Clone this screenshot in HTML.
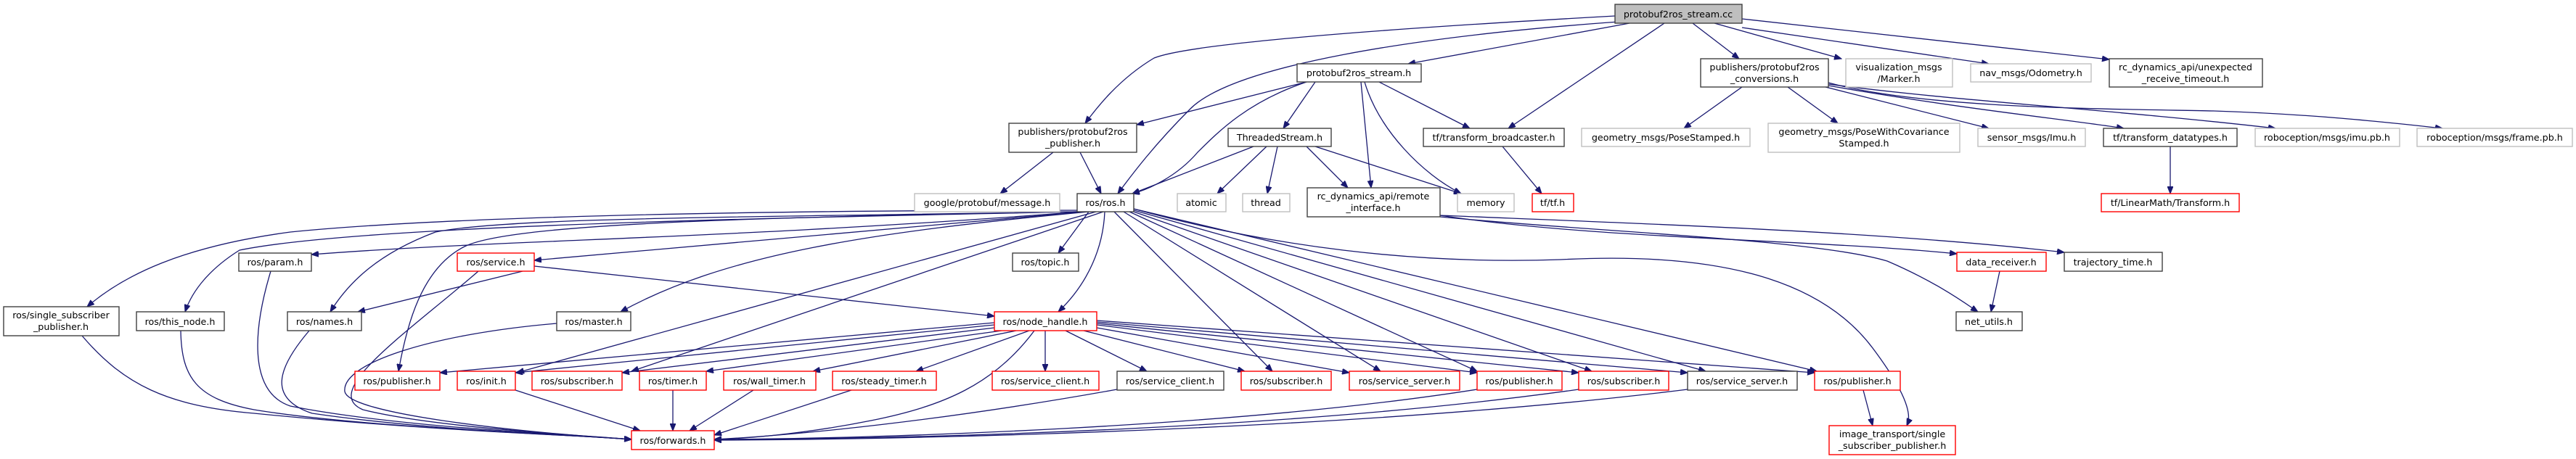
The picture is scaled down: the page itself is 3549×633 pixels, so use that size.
<!DOCTYPE html>
<html><head><meta charset="utf-8"><style>
html,body{margin:0;padding:0;background:#fff;width:3549px;height:633px;overflow:hidden}
svg text{font-family:"DejaVu Sans","Liberation Sans",sans-serif;font-size:12.7px;fill:#000;text-anchor:middle}
.e{fill:none;stroke:#191970;stroke-width:1.3}
.b{fill:#fff;stroke:#404040;stroke-width:1.4}
.g{fill:#fff;stroke:#bfbfbf;stroke-width:1.4}
.r{fill:#fff;stroke:#ff0000;stroke-width:1.4}
</style></head><body>
<svg width="3549" height="633" viewBox="0 0 3549 633" xmlns="http://www.w3.org/2000/svg">
<defs><marker id="a" markerUnits="userSpaceOnUse" markerWidth="11" markerHeight="8" refX="10" refY="4" orient="auto"><path d="M0,0 L10,4 L0,8 z" fill="#191970" stroke="#191970"/></marker></defs>
<g marker-end="url(#a)">
<path class="e" d="M2225,22 C1900,40 1640,60 1590,80 C1540,110 1510,150 1495,170"/>
<path class="e" d="M2230,30 C1950,50 1700,90 1640,150 C1590,200 1560,240 1540,267"/>
<path class="e" d="M2245,32 L1940,88"/>
<path class="e" d="M2293,32 L2078,177"/>
<path class="e" d="M2332,32 L2396,81"/>
<path class="e" d="M2362,32 L2537,81"/>
<path class="e" d="M2400,38 L2740,88"/>
<path class="e" d="M2400,26 L2906,82"/>
<path class="e" d="M1800,113 L1566,172"/>
<path class="e" d="M1800,113 C1720,140 1680,180 1650,210 C1620,245 1580,262 1560,267"/>
<path class="e" d="M1812,113 L1768,177"/>
<path class="e" d="M1875,113 L1889,259"/>
<path class="e" d="M1880,113 C1900,180 1960,240 2013,267"/>
<path class="e" d="M1900,113 L2025,177"/>
<path class="e" d="M1451,210 L1378,267"/>
<path class="e" d="M1488,210 L1517,267"/>
<path class="e" d="M1727,202 L1560,267"/>
<path class="e" d="M1745,202 L1677,267"/>
<path class="e" d="M1760,202 L1746,267"/>
<path class="e" d="M1800,202 L1857,259"/>
<path class="e" d="M1812,202 L2013,267"/>
<path class="e" d="M2070,202 L2124,267"/>
<path class="e" d="M2400,120 L2320,177"/>
<path class="e" d="M2463,120 L2532,170"/>
<path class="e" d="M2515,120 L2740,177"/>
<path class="e" d="M2519,118 C2700,150 2850,165 2926,177"/>
<path class="e" d="M2519,116 C2700,140 2900,150 3135,177"/>
<path class="e" d="M2519,114 C2650,150 2900,150 3050,153 C3200,158 3300,170 3365,177"/>
<path class="e" d="M2990,202 L2990,267"/>
<path class="e" d="M1984,297 C2200,330 2500,330 2696,350"/>
<path class="e" d="M1984,297 C2300,310 2600,320 2844,348"/>
<path class="e" d="M1984,299 C2200,320 2500,330 2600,360 C2670,390 2710,420 2725,430"/>
<path class="e" d="M2755,374 L2743,430"/>
<path class="e" d="M1484,290 C1000,290 600,300 400,320 C250,340 170,380 120,423"/>
<path class="e" d="M1484,292 C1100,300 500,310 330,345 C290,370 265,400 255,430"/>
<path class="e" d="M1490,292 C1000,330 700,330 429,351"/>
<path class="e" d="M1490,292 C1000,300 700,300 600,320 C520,350 480,390 455,430"/>
<path class="e" d="M1495,292 L736,359"/>
<path class="e" d="M1500,292 C1200,320 1000,350 855,430"/>
<path class="e" d="M1484,292 C1000,300 700,310 640,340 C580,370 560,450 549,512"/>
<path class="e" d="M1510,292 L712,514"/>
<path class="e" d="M1520,292 L870,512"/>
<path class="e" d="M1500,292 L1458,349"/>
<path class="e" d="M1522,292 C1520,340 1500,390 1458,430"/>
<path class="e" d="M1535,292 L1753,512"/>
<path class="e" d="M1548,292 L1902,512"/>
<path class="e" d="M1556,292 L2035,512"/>
<path class="e" d="M1562,292 L2193,512"/>
<path class="e" d="M1562,290 L2350,512"/>
<path class="e" d="M1562,288 L2503,512"/>
<path class="e" d="M1562,288 C1750,340 1950,365 2150,358 C2400,345 2520,400 2580,480 C2640,560 2630,580 2627,587"/>
<path class="e" d="M1370,445 L606,514"/>
<path class="e" d="M1370,448 L710,514"/>
<path class="e" d="M1370,452 L857,514"/>
<path class="e" d="M1380,456 L973,512"/>
<path class="e" d="M1400,456 L1120,512"/>
<path class="e" d="M1418,456 L1262,512"/>
<path class="e" d="M1440,456 L1440,512"/>
<path class="e" d="M1468,456 L1580,512"/>
<path class="e" d="M1493,456 L1715,512"/>
<path class="e" d="M1511,452 L1859,514"/>
<path class="e" d="M1511,448 L2035,514"/>
<path class="e" d="M1511,446 L2175,514"/>
<path class="e" d="M1511,444 L2325,514"/>
<path class="e" d="M1511,442 L2500,514"/>
<path class="e" d="M1425,456 C1370,530 1300,560 1200,580 C1100,600 1020,605 984,606"/>
<path class="e" d="M720,374 L493,430"/>
<path class="e" d="M659,374 C560,460 440,540 500,565 C600,590 800,600 870,606"/>
<path class="e" d="M736,367 L1370,436"/>
<path class="e" d="M373,374 C350,450 340,540 400,560 C550,590 800,600 870,606"/>
<path class="e" d="M249,456 C250,520 270,550 350,565 C500,590 800,600 870,606"/>
<path class="e" d="M426,456 C380,510 370,550 430,570 C600,595 800,600 870,606"/>
<path class="e" d="M767,446 C600,460 470,500 475,540 C480,570 700,595 870,606"/>
<path class="e" d="M113,463 C170,530 230,560 350,570 C600,595 800,600 870,606"/>
<path class="e" d="M710,538 L882,594"/>
<path class="e" d="M927,538 L927,594"/>
<path class="e" d="M1038,538 L950,594"/>
<path class="e" d="M1173,538 L984,600"/>
<path class="e" d="M1539,537 C1300,580 1100,600 984,606"/>
<path class="e" d="M2035,537 C1700,590 1200,605 984,606"/>
<path class="e" d="M2175,537 C1800,590 1300,605 984,606"/>
<path class="e" d="M2325,537 C1900,590 1300,606 984,607"/>
<path class="e" d="M2567,538 L2580,587"/>
</g>
<g>
<rect x="2225" y="6" width="175" height="26" fill="#bfbfbf" stroke="#404040" stroke-width="1.4"/><text x="2312" y="24">protobuf2ros_stream.cc</text>
<rect class="b" x="1787" y="88" width="171" height="25"/><text x="1872" y="105">protobuf2ros_stream.h</text>
<rect class="b" x="1390" y="170" width="176" height="40"/><text x="1478" y="186">publishers/protobuf2ros</text><text x="1478" y="202">_publisher.h</text>
<rect class="b" x="2343" y="81" width="176" height="39"/><text x="2431" y="97">publishers/protobuf2ros</text><text x="2431" y="113">_conversions.h</text>
<rect class="g" x="2543" y="81" width="147" height="39"/><text x="2616" y="97">visualization_msgs</text><text x="2616" y="113">/Marker.h</text>
<rect class="g" x="2715" y="88" width="166" height="25"/><text x="2798" y="105">nav_msgs/Odometry.h</text>
<rect class="b" x="2906" y="81" width="211" height="39"/><text x="3011" y="97">rc_dynamics_api/unexpected</text><text x="3011" y="113">_receive_timeout.h</text>
<rect class="b" x="1692" y="177" width="142" height="25"/><text x="1763" y="194">ThreadedStream.h</text>
<rect class="b" x="1961" y="177" width="194" height="25"/><text x="2058" y="194">tf/transform_broadcaster.h</text>
<rect class="g" x="2179" y="177" width="232" height="25"/><text x="2295" y="194">geometry_msgs/PoseStamped.h</text>
<rect class="g" x="2436" y="170" width="264" height="40"/><text x="2568" y="186">geometry_msgs/PoseWithCovariance</text><text x="2568" y="202">Stamped.h</text>
<rect class="g" x="2725" y="177" width="148" height="25"/><text x="2799" y="194">sensor_msgs/Imu.h</text>
<rect class="b" x="2898" y="177" width="184" height="25"/><text x="2990" y="194">tf/transform_datatypes.h</text>
<rect class="g" x="3107" y="177" width="199" height="25"/><text x="3206" y="194">roboception/msgs/imu.pb.h</text>
<rect class="g" x="3330" y="177" width="214" height="25"/><text x="3437" y="194">roboception/msgs/frame.pb.h</text>
<rect class="g" x="1260" y="267" width="200" height="25"/><text x="1360" y="284">google/protobuf/message.h</text>
<rect class="b" x="1484" y="267" width="78" height="25"/><text x="1523" y="284">ros/ros.h</text>
<rect class="g" x="1622" y="267" width="67" height="25"/><text x="1655" y="284">atomic</text>
<rect class="g" x="1712" y="267" width="65" height="25"/><text x="1744" y="284">thread</text>
<rect class="b" x="1801" y="259" width="183" height="40"/><text x="1892" y="275">rc_dynamics_api/remote</text><text x="1892" y="291">_interface.h</text>
<rect class="g" x="2008" y="267" width="78" height="25"/><text x="2047" y="284">memory</text>
<rect class="r" x="2111" y="267" width="57" height="25"/><text x="2139" y="284">tf/tf.h</text>
<rect class="r" x="2895" y="267" width="190" height="25"/><text x="2990" y="284">tf/LinearMath/Transform.h</text>
<rect class="b" x="329" y="349" width="100" height="25"/><text x="379" y="366">ros/param.h</text>
<rect class="r" x="630" y="349" width="106" height="25"/><text x="683" y="366">ros/service.h</text>
<rect class="b" x="1395" y="349" width="91" height="25"/><text x="1440" y="366">ros/topic.h</text>
<rect class="r" x="2696" y="348" width="123" height="26"/><text x="2757" y="366">data_receiver.h</text>
<rect class="b" x="2844" y="348" width="135" height="26"/><text x="2911" y="366">trajectory_time.h</text>
<rect class="b" x="5" y="423" width="159" height="40"/><text x="84" y="439">ros/single_subscriber</text><text x="84" y="455">_publisher.h</text>
<rect class="b" x="188" y="430" width="121" height="26"/><text x="248" y="448">ros/this_node.h</text>
<rect class="b" x="396" y="430" width="102" height="26"/><text x="447" y="448">ros/names.h</text>
<rect class="b" x="767" y="430" width="102" height="26"/><text x="818" y="448">ros/master.h</text>
<rect class="r" x="1370" y="430" width="141" height="26"/><text x="1440" y="448">ros/node_handle.h</text>
<rect class="b" x="2695" y="430" width="91" height="26"/><text x="2740" y="448">net_utils.h</text>
<rect class="r" x="489" y="512" width="117" height="26"/><text x="547" y="530">ros/publisher.h</text>
<rect class="r" x="630" y="512" width="80" height="26"/><text x="670" y="530">ros/init.h</text>
<rect class="r" x="733" y="512" width="124" height="26"/><text x="795" y="530">ros/subscriber.h</text>
<rect class="r" x="881" y="512" width="92" height="26"/><text x="927" y="530">ros/timer.h</text>
<rect class="r" x="997" y="512" width="127" height="26"/><text x="1060" y="530">ros/wall_timer.h</text>
<rect class="r" x="1147" y="512" width="143" height="26"/><text x="1218" y="530">ros/steady_timer.h</text>
<rect class="r" x="1367" y="512" width="147" height="26"/><text x="1440" y="530">ros/service_client.h</text>
<rect class="b" x="1539" y="512" width="147" height="26"/><text x="1612" y="530">ros/service_client.h</text>
<rect class="r" x="1710" y="512" width="124" height="26"/><text x="1772" y="530">ros/subscriber.h</text>
<rect class="r" x="1859" y="512" width="152" height="26"/><text x="1935" y="530">ros/service_server.h</text>
<rect class="r" x="2035" y="512" width="117" height="26"/><text x="2093" y="530">ros/publisher.h</text>
<rect class="r" x="2175" y="512" width="124" height="26"/><text x="2237" y="530">ros/subscriber.h</text>
<rect class="b" x="2325" y="512" width="151" height="26"/><text x="2400" y="530">ros/service_server.h</text>
<rect class="r" x="2500" y="512" width="118" height="26"/><text x="2559" y="530">ros/publisher.h</text>
<rect class="r" x="2520" y="587" width="174" height="40"/><text x="2607" y="603">image_transport/single</text><text x="2607" y="619">_subscriber_publisher.h</text>
<rect class="r" x="870" y="594" width="114" height="26"/><text x="927" y="612">ros/forwards.h</text>
</g>
</svg>
</body></html>
